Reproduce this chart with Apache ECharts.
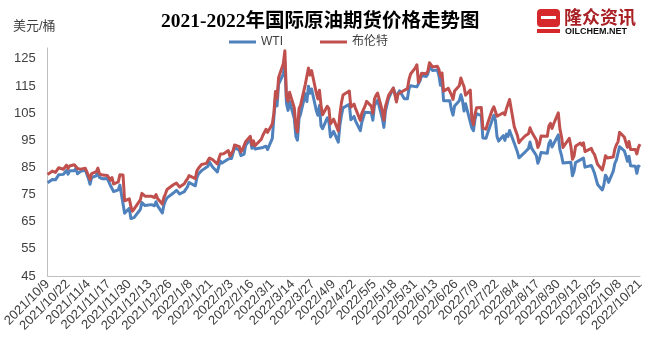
<!DOCTYPE html>
<html>
<head>
<meta charset="utf-8">
<script src="https://cdn.jsdelivr.net/npm/echarts@6/dist/echarts.min.js"></script>
<style>
  html, body { margin: 0; padding: 0; background: #fff; }
  #chart { width: 660px; height: 346px; }
</style>
</head>
<body>
<div id="chart"></div>
<script>
// Crude oil futures settlement prices (USD/bbl), dated by Beijing trading day.
const dates = [
  '2021/10/9','2021/10/12','2021/10/13','2021/10/14','2021/10/15','2021/10/16','2021/10/19','2021/10/20','2021/10/21','2021/10/22','2021/10/23','2021/10/26','2021/10/27','2021/10/28','2021/10/29','2021/10/30',
  '2021/11/2','2021/11/3','2021/11/4','2021/11/5','2021/11/6','2021/11/9','2021/11/10','2021/11/11','2021/11/12','2021/11/13','2021/11/16','2021/11/17','2021/11/18','2021/11/19','2021/11/20','2021/11/23','2021/11/24','2021/11/25','2021/11/26','2021/11/27','2021/11/30',
  '2021/12/1','2021/12/2','2021/12/3','2021/12/4','2021/12/7','2021/12/8','2021/12/9','2021/12/10','2021/12/11','2021/12/14','2021/12/15','2021/12/16','2021/12/17','2021/12/18','2021/12/21','2021/12/22','2021/12/23','2021/12/24','2021/12/25','2021/12/28','2021/12/29','2021/12/30','2021/12/31',
  '2022/1/1','2022/1/4','2022/1/5','2022/1/6','2022/1/7','2022/1/8','2022/1/11','2022/1/12','2022/1/13','2022/1/14','2022/1/15','2022/1/18','2022/1/19','2022/1/20','2022/1/21','2022/1/22','2022/1/25','2022/1/26','2022/1/27','2022/1/28','2022/1/29',
  '2022/2/1','2022/2/2','2022/2/3','2022/2/4','2022/2/5','2022/2/8','2022/2/9','2022/2/10','2022/2/11','2022/2/12','2022/2/15','2022/2/16','2022/2/17','2022/2/18','2022/2/19','2022/2/22','2022/2/23','2022/2/24','2022/2/25','2022/2/26',
  '2022/3/1','2022/3/2','2022/3/3','2022/3/4','2022/3/5','2022/3/8','2022/3/9','2022/3/10','2022/3/11','2022/3/12','2022/3/15','2022/3/16','2022/3/17','2022/3/18','2022/3/19','2022/3/22','2022/3/23','2022/3/24','2022/3/25','2022/3/26','2022/3/29','2022/3/30','2022/3/31',
  '2022/4/1','2022/4/2','2022/4/5','2022/4/6','2022/4/7','2022/4/8','2022/4/9','2022/4/12','2022/4/13','2022/4/14','2022/4/15','2022/4/19','2022/4/20','2022/4/21','2022/4/22','2022/4/23','2022/4/26','2022/4/27','2022/4/28','2022/4/29','2022/4/30',
  '2022/5/3','2022/5/4','2022/5/5','2022/5/6','2022/5/7','2022/5/10','2022/5/11','2022/5/12','2022/5/13','2022/5/14','2022/5/17','2022/5/18','2022/5/19','2022/5/20','2022/5/21','2022/5/24','2022/5/25','2022/5/26','2022/5/27','2022/5/28','2022/5/31',
  '2022/6/1','2022/6/2','2022/6/3','2022/6/4','2022/6/7','2022/6/8','2022/6/9','2022/6/10','2022/6/11','2022/6/14','2022/6/15','2022/6/16','2022/6/17','2022/6/18','2022/6/21','2022/6/22','2022/6/23','2022/6/24','2022/6/25','2022/6/28','2022/6/29','2022/6/30',
  '2022/7/1','2022/7/2','2022/7/5','2022/7/6','2022/7/7','2022/7/8','2022/7/9','2022/7/12','2022/7/13','2022/7/14','2022/7/15','2022/7/16','2022/7/19','2022/7/20','2022/7/21','2022/7/22','2022/7/23','2022/7/26','2022/7/27','2022/7/28','2022/7/29','2022/7/30',
  '2022/8/2','2022/8/3','2022/8/4','2022/8/5','2022/8/6','2022/8/9','2022/8/10','2022/8/11','2022/8/12','2022/8/13','2022/8/16','2022/8/17','2022/8/18','2022/8/19','2022/8/20','2022/8/23','2022/8/24','2022/8/25','2022/8/26','2022/8/27','2022/8/30','2022/8/31',
  '2022/9/1','2022/9/2','2022/9/3','2022/9/6','2022/9/7','2022/9/8','2022/9/9','2022/9/10','2022/9/13','2022/9/14','2022/9/15','2022/9/16','2022/9/17','2022/9/20','2022/9/21','2022/9/22','2022/9/23','2022/9/24','2022/9/27','2022/9/28','2022/9/29','2022/9/30',
  '2022/10/1','2022/10/4','2022/10/5','2022/10/6','2022/10/7','2022/10/8','2022/10/11','2022/10/12','2022/10/13','2022/10/14','2022/10/15','2022/10/18','2022/10/19','2022/10/20','2022/10/21'
];

const wti = [
  79.35,80.52,80.64,80.44,81.31,82.28,82.44,82.96,83.87,82.50,83.76,83.76,84.65,82.66,82.81,83.57,
  84.05,83.91,80.86,78.81,81.27,81.93,84.15,81.34,81.59,80.79,80.88,80.76,78.36,79.01,76.10,76.75,78.50,78.39,null,68.15,69.95,
  66.18,65.57,66.50,66.26,69.49,72.05,72.36,70.94,71.67,71.29,70.73,70.87,72.38,70.86,68.23,71.12,72.76,73.79,null,75.57,75.98,76.56,76.99,
  75.21,76.08,76.99,77.85,79.46,78.90,78.23,81.22,82.64,82.12,83.82,null,85.43,86.96,86.90,85.14,83.31,85.60,87.35,86.61,86.82,
  88.15,88.20,88.26,90.27,92.31,91.32,89.36,89.66,89.88,93.10,95.46,92.07,93.66,91.76,91.07,null,92.35,92.10,92.81,91.59,
  95.72,103.41,110.60,107.67,115.68,119.40,123.70,108.70,106.02,109.33,103.01,96.44,95.04,102.98,104.70,112.12,109.27,114.93,112.34,113.90,105.96,104.24,107.82,
  100.28,99.27,103.28,102.00,96.23,96.03,98.26,94.29,100.60,104.25,106.95,108.21,102.56,102.75,103.79,102.07,98.54,101.70,102.02,105.36,104.69,
  105.17,102.41,107.81,108.26,109.77,103.09,99.76,105.71,106.13,110.49,114.20,112.40,109.59,112.21,113.23,110.29,109.77,110.33,114.09,115.07,null,
  114.67,115.26,116.87,118.87,118.50,119.41,122.11,121.51,120.67,120.93,118.93,115.31,117.59,109.56,null,109.52,106.19,104.27,107.62,109.57,111.76,109.78,
  105.76,108.43,null,99.50,98.53,102.73,104.79,104.09,95.84,96.30,95.78,97.59,102.60,104.22,102.26,96.35,94.70,96.70,94.98,97.26,96.42,98.62,
  93.89,94.42,90.66,88.54,89.01,90.76,90.50,91.93,94.34,92.09,89.41,86.53,88.11,90.50,90.77,90.23,93.74,94.89,92.52,93.06,97.01,91.64,
  89.55,86.61,86.87,null,86.88,81.94,83.54,86.79,87.78,87.31,88.48,85.10,85.11,85.73,84.45,82.94,83.49,78.74,76.71,78.50,82.15,81.23,
  79.49,83.63,86.52,87.76,88.45,92.64,91.13,89.35,87.27,89.11,85.61,85.46,82.82,85.55,85.10
];

const brent = [
  82.39,83.65,83.42,83.18,84.00,84.86,84.33,85.08,85.82,84.61,85.53,85.99,86.40,84.58,84.32,84.38,
  84.71,84.72,81.99,80.54,82.74,83.43,84.78,82.64,82.87,82.17,82.05,82.43,80.28,81.24,78.89,79.70,82.31,82.25,82.22,72.72,73.44,
  70.57,68.87,69.67,69.88,73.08,75.44,75.82,74.42,75.15,74.39,73.70,73.88,75.02,73.52,71.52,73.98,75.29,76.85,76.14,78.60,78.94,79.23,79.32,
  77.78,78.98,80.00,80.80,81.99,81.75,80.87,83.72,84.67,84.47,86.06,86.48,87.51,88.44,88.38,87.89,86.27,88.20,89.96,89.34,90.03,
  91.21,89.16,89.47,91.11,93.27,92.69,90.78,91.55,91.41,94.44,96.48,93.28,94.81,92.97,93.54,95.39,96.84,96.84,99.08,97.93,
  100.99,104.97,112.93,110.46,118.11,123.21,127.98,111.14,109.33,112.67,106.90,99.91,98.02,106.64,107.93,115.62,115.48,121.60,119.03,120.65,112.48,110.23,113.45,
  107.91,104.39,107.53,106.64,101.07,100.58,102.78,98.48,104.64,108.78,111.70,113.16,107.25,106.80,108.33,106.65,102.32,104.99,105.32,107.59,109.34,
  107.58,104.97,110.14,111.55,112.39,105.94,102.46,107.51,107.45,111.55,114.24,111.93,109.11,112.04,112.55,113.42,113.56,114.03,117.40,119.43,121.67,
  122.84,116.29,117.61,119.72,119.51,120.57,123.58,123.07,122.01,122.27,121.17,118.51,119.81,113.12,114.13,114.65,111.74,110.05,113.12,115.09,117.98,116.26,
  114.81,111.63,113.50,102.77,100.69,104.65,107.02,107.10,99.49,99.57,99.10,101.16,106.27,107.35,106.92,103.86,103.20,105.15,104.40,106.62,107.14,110.01,
  100.03,100.54,96.78,94.12,94.92,96.65,96.31,97.40,99.60,98.15,95.10,92.34,93.65,96.59,96.72,96.48,100.22,101.22,99.34,100.99,105.09,99.31,
  96.49,92.36,93.02,95.74,92.83,88.00,89.15,92.84,94.00,93.17,94.10,90.84,91.35,92.00,90.62,89.83,90.46,86.15,84.06,86.27,89.32,88.49,
  87.96,88.86,91.80,93.37,94.42,97.92,96.19,94.29,92.45,94.57,91.63,91.62,89.99,92.41,93.60
];

const seriesNames = ['WTI', '布伦特'];
const titleText = '2021-2022年国际原油期货价格走势图';
const unitText = '美元/桶';
const axisStart = [2021, 10, 9];
const axisEnd = [2022, 10, 21];
const labelEvery = 13; // days between date labels
const yTicks = { min: 45, max: 129, step: 10 };

// Continuous calendar for the date axis
const calendar = [];
{
  let t = Date.UTC(axisStart[0], axisStart[1] - 1, axisStart[2]);
  const end = Date.UTC(axisEnd[0], axisEnd[1] - 1, axisEnd[2]);
  while (t <= end) {
    const d = new Date(t);
    calendar.push(d.getUTCFullYear() + '/' + (d.getUTCMonth() + 1) + '/' + d.getUTCDate());
    t += 86400000;
  }
}

const pairs = arr => arr.map((v, i) => [dates[i], v]);

const chart = echarts.init(document.getElementById('chart'), null, { renderer: 'canvas' });
const font = '"Liberation Sans", "Noto Sans CJK SC", sans-serif';

chart.setOption({
  animation: false,
  backgroundColor: '#ffffff',
  textStyle: { fontFamily: font },
  title: {
    text: titleText,
    left: 161,
    top: 12,
    padding: 0,
    textStyle: {
      fontFamily: '"Liberation Serif", "Noto Sans CJK SC", serif',
      fontSize: 19.5,
      fontWeight: 'bold',
      color: '#000000'
    }
  },
  legend: {
    data: seriesNames,
    left: 229,
    top: 36,
    padding: 0,
    itemGap: 37,
    itemWidth: 27,
    itemHeight: 3,
    icon: 'rect',
    textStyle: { fontSize: 12, color: '#404040', fontFamily: font }
  },
  grid: { left: 46, right: 20, top: 48, bottom: 70 },
  xAxis: {
    type: 'category',
    data: calendar,
    boundaryGap: false,
    axisLine: { lineStyle: { color: '#bfbfbf', width: 1 } },
    axisTick: { show: false },
    axisLabel: {
      interval: labelEvery - 1,
      rotate: 45,
      fontSize: 13,
      color: '#404040',
      margin: 6,
      fontFamily: font
    },
    splitLine: { show: false }
  },
  yAxis: {
    type: 'value',
    min: yTicks.min,
    max: yTicks.max,
    interval: yTicks.step,
    axisLine: { show: true, lineStyle: { color: '#bfbfbf', width: 1 } },
    axisTick: { show: false },
    splitLine: { show: false },
    axisLabel: {
      showMaxLabel: false,
      fontSize: 13,
      color: '#404040',
      margin: 12,
      fontFamily: font
    }
  },
  series: [
    {
      name: seriesNames[0],
      type: 'line',
      data: pairs(wti),
      connectNulls: true,
      symbol: 'none',
      lineStyle: { width: 3, color: '#4f81bd', join: 'round' },
      itemStyle: { color: '#4f81bd' }
    },
    {
      name: seriesNames[1],
      type: 'line',
      data: pairs(brent),
      connectNulls: true,
      symbol: 'none',
      lineStyle: { width: 3, color: '#c0504d', join: 'round' },
      itemStyle: { color: '#c0504d' }
    }
  ],
  graphic: [
    {
      type: 'text', left: 13, top: 20,
      style: { text: unitText, fontSize: 13, fill: '#404040', fontFamily: font }
    },
    // brand mark, top right
    {
      type: 'group', left: 537, top: 8,
      children: [
        { type: 'rect', shape: { x: 0, y: 0, width: 23, height: 18, r: 4 }, style: { fill: '#d6282b' } },
        { type: 'rect', shape: { x: 4, y: 7, width: 15, height: 3 }, style: { fill: '#ffffff' } },
        { type: 'rect', shape: { x: 0, y: 20, width: 23, height: 4 }, style: { fill: '#d6282b' } },
        {
          type: 'text', x: 27, y: -1,
          style: { text: '隆众资讯', fontSize: 18, fontWeight: 'bold', fill: '#a81f24', fontFamily: '"Noto Sans CJK SC", sans-serif' }
        },
        {
          type: 'text', x: 28, y: 18,
          style: { text: 'OILCHEM.NET', fontSize: 9, fontWeight: 'bold', fill: '#111111', fontFamily: font }
        }
      ]
    }
  ]
});
</script>
</body>
</html>
